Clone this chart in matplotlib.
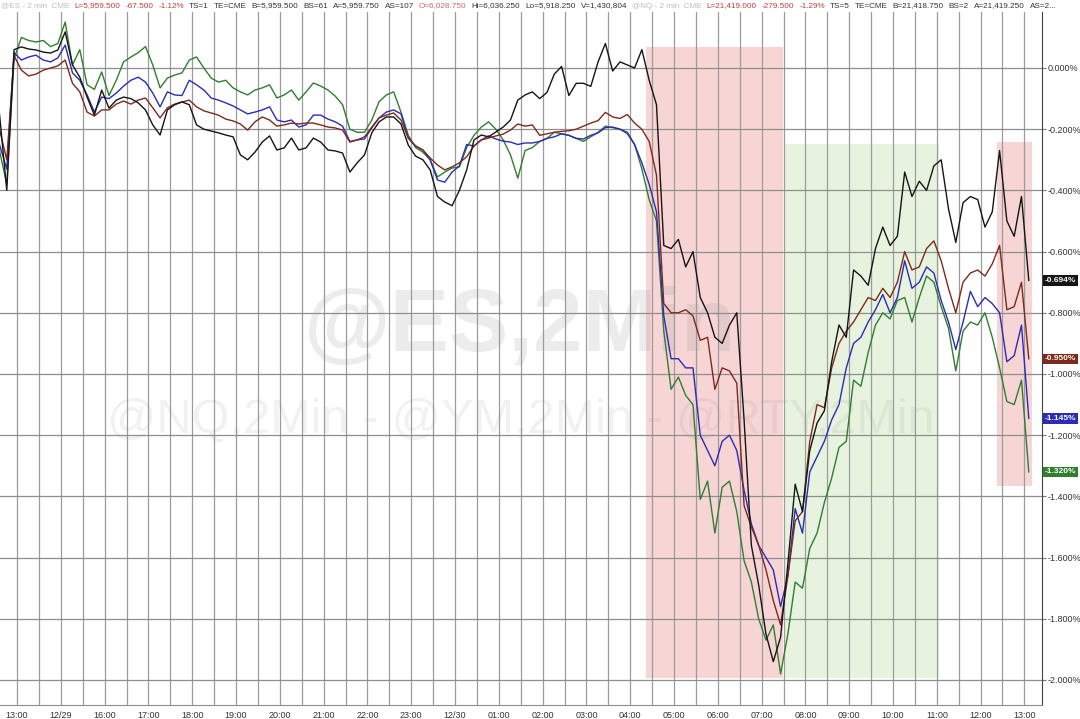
import numpy as np
import matplotlib
matplotlib.use("Agg")
import matplotlib.pyplot as plt
from matplotlib.patches import Rectangle

plt.rcParams['font.family'] = ['Liberation Sans', 'DejaVu Sans']

W, H = 1080, 719

# 10-minute samples, time in hours counted from the first 13:00 tick
t = -0.4 + np.arange(142) / 6.0

pct_black = [
    -0.15, -0.40, 0.06, 0.069, 0.062, 0.059, 0.052, 0.049, 0.059, 0.118,
    0.01, -0.03, -0.095, -0.154, -0.072, -0.131, -0.105, -0.095, -0.10, -0.114,
    -0.137, -0.186, -0.219, -0.137, -0.12, -0.111, -0.12, -0.186, -0.20, -0.206,
    -0.212, -0.219, -0.225, -0.284, -0.30, -0.275, -0.242, -0.222, -0.268, -0.261,
    -0.229, -0.268, -0.261, -0.229, -0.242, -0.268, -0.271, -0.278, -0.34, -0.31,
    -0.284, -0.212, -0.176, -0.16, -0.16, -0.183, -0.252, -0.288, -0.30, -0.333,
    -0.42, -0.438, -0.45, -0.40, -0.333, -0.235, -0.219, -0.225, -0.209, -0.193,
    -0.17, -0.105, -0.088, -0.078, -0.10, -0.08, -0.02, 0.005, -0.09, -0.05,
    -0.05, -0.06, 0.02, 0.08, -0.01, 0.02, 0.01, 0.0, 0.06, -0.04,
    -0.12, -0.58, -0.59, -0.56, -0.65, -0.60, -0.75, -0.80, -0.88, -0.90,
    -0.84, -0.80, -1.15, -1.56, -1.69, -1.85, -1.94, -1.86, -1.62, -1.36,
    -1.45, -1.25, -1.16, -1.12, -0.96, -0.84, -0.88, -0.66, -0.68, -0.71,
    -0.59, -0.52, -0.58, -0.55, -0.34, -0.42, -0.37, -0.40, -0.32, -0.30,
    -0.46, -0.57, -0.44, -0.42, -0.43, -0.52, -0.47, -0.27, -0.50, -0.55,
    -0.42, -0.694,
]

pct_brown = [
    -0.20, -0.30, 0.04, -0.007, -0.026, -0.02, -0.007, 0.0, 0.007, 0.026,
    -0.05, -0.078, -0.144, -0.157, -0.137, -0.137, -0.118, -0.108, -0.118, -0.105,
    -0.098, -0.13, -0.163, -0.13, -0.118, -0.111, -0.105, -0.127, -0.14, -0.147,
    -0.154, -0.167, -0.173, -0.183, -0.203, -0.176, -0.16, -0.17, -0.19, -0.186,
    -0.18, -0.183, -0.18, -0.18, -0.186, -0.193, -0.196, -0.203, -0.242, -0.235,
    -0.225, -0.193, -0.163, -0.154, -0.147, -0.17, -0.229, -0.255, -0.268, -0.294,
    -0.317, -0.333, -0.323, -0.31, -0.29, -0.255, -0.235, -0.229, -0.222, -0.216,
    -0.203, -0.183, -0.19, -0.186, -0.22, -0.215, -0.21, -0.207, -0.205, -0.20,
    -0.19, -0.18, -0.172, -0.145, -0.16, -0.165, -0.152, -0.18, -0.20, -0.24,
    -0.35, -0.77, -0.80, -0.80, -0.79, -0.81, -0.89, -0.88, -1.05, -0.98,
    -0.99, -1.03, -1.43, -1.50, -1.56, -1.64, -1.74, -1.82, -1.66, -1.48,
    -1.45, -1.22, -1.10, -1.11, -0.98, -0.90, -0.86, -0.83, -0.79, -0.75,
    -0.76, -0.72, -0.75, -0.70, -0.60, -0.66, -0.65, -0.59, -0.565, -0.63,
    -0.72, -0.80, -0.70, -0.67, -0.66, -0.68, -0.64, -0.58, -0.79, -0.78,
    -0.70, -0.95,
]

pct_blue = [
    -0.25, -0.33, 0.05, 0.026, 0.036, 0.042, 0.026, 0.02, 0.033, 0.075,
    -0.016, -0.04, -0.088, -0.144, -0.095, -0.10, -0.082, -0.059, -0.04, -0.03,
    -0.046, -0.082, -0.127, -0.078, -0.088, -0.09, -0.04, -0.055, -0.072, -0.098,
    -0.105, -0.114, -0.124, -0.137, -0.15, -0.144, -0.137, -0.127, -0.17, -0.176,
    -0.17, -0.193, -0.186, -0.154, -0.154, -0.167, -0.176, -0.19, -0.24, -0.235,
    -0.232, -0.196, -0.163, -0.144, -0.137, -0.15, -0.229, -0.255, -0.268, -0.30,
    -0.366, -0.373, -0.34, -0.32, -0.25, -0.255, -0.235, -0.222, -0.232, -0.239,
    -0.242, -0.25, -0.245, -0.245, -0.24, -0.23, -0.225, -0.215, -0.22, -0.23,
    -0.232, -0.22, -0.212, -0.195, -0.193, -0.20, -0.21, -0.25, -0.31, -0.38,
    -0.47, -0.81, -0.95, -0.95, -0.98, -0.98, -1.20, -1.25, -1.30, -1.22,
    -1.20, -1.25, -1.38, -1.49, -1.56, -1.60, -1.64, -1.76, -1.66, -1.44,
    -1.52, -1.32, -1.27, -1.22, -1.15, -1.10, -0.98, -0.90, -0.88, -0.83,
    -0.79, -0.74, -0.80, -0.75, -0.63, -0.72, -0.70, -0.65, -0.67, -0.76,
    -0.83, -0.92, -0.83, -0.73, -0.78, -0.75, -0.77, -0.80, -0.96, -0.94,
    -0.84, -1.145,
]

pct_green = [
    -0.27, -0.38, 0.03, 0.10, 0.09, 0.085, 0.09, 0.07, 0.08, 0.15,
    0.01, 0.06, -0.055, -0.07, -0.013, -0.09, -0.04, 0.02, 0.036, 0.05,
    0.07, 0.01, -0.065, -0.033, -0.023, -0.016, 0.026, 0.036, 0.0, -0.033,
    -0.046, -0.04, -0.065, -0.078, -0.088, -0.072, -0.065, -0.055, -0.098, -0.088,
    -0.072, -0.105, -0.078, -0.049, -0.059, -0.072, -0.092, -0.12, -0.20, -0.21,
    -0.21, -0.17, -0.11, -0.088, -0.078, -0.144, -0.22, -0.26, -0.275, -0.30,
    -0.356, -0.34, -0.327, -0.323, -0.26, -0.22, -0.193, -0.176, -0.20, -0.235,
    -0.284, -0.36, -0.27, -0.26, -0.24, -0.23, -0.21, -0.215, -0.22, -0.23,
    -0.24, -0.225, -0.21, -0.19, -0.195, -0.20, -0.215, -0.25, -0.33, -0.43,
    -0.50, -0.86, -1.05, -1.01, -1.07, -1.10, -1.41, -1.35, -1.52, -1.37,
    -1.35, -1.45, -1.61, -1.68, -1.80, -1.87, -1.82, -1.98, -1.85, -1.68,
    -1.70, -1.57, -1.52, -1.42, -1.34, -1.24, -1.22, -1.02, -1.04, -0.93,
    -0.84, -0.80, -0.82, -0.76, -0.75, -0.83, -0.75, -0.68, -0.70, -0.78,
    -0.85, -0.99, -0.86, -0.83, -0.84, -0.80, -0.88, -0.98, -1.09, -1.10,
    -1.02, -1.32,
]

last_values = [-0.694, -0.950, -1.145, -1.320]
line_colors = ['#151515', '#7d2a1c', '#2c2cb4', '#2f7f2f']

x_labels = ['13:00', '12/29', '16:00', '17:00', '18:00', '19:00', '20:00', '21:00',
            '22:00', '23:00', '12/30', '01:00', '02:00', '03:00', '04:00', '05:00',
            '06:00', '07:00', '08:00', '09:00', '10:00', '11:00', '12:00', '13:00']
y_ticks = [0.0, -0.2, -0.4, -0.6, -0.8, -1.0, -1.2, -1.4, -1.6, -1.8, -2.0]

# shaded zones: (start h, end h, top %, bottom %, colour)
zones = [
    (14.35, 17.48, 0.069, -1.995, '#f7d5d5'),
    (17.50, 21.05, -0.250, -1.995, '#e7f3de'),
    (22.37, 23.17, -0.242, -1.365, '#f7d5d5'),
]

header = [
    ('@ES - 2 min  CME', '#bdbdbd'), ('L=5,959.500', '#c43c3c'), ('-67.500', '#c43c3c'),
    ('-1.12%', '#c43c3c'), ('TS=1', '#333333'), ('TE=CME', '#333333'),
    ('B=5,959.500', '#333333'), ('BS=61', '#333333'), ('A=5,959.750', '#333333'),
    ('AS=107', '#333333'), ('O=6,028.750', '#d06a6a'), ('Hi=6,036.250', '#333333'),
    ('Lo=5,918.250', '#333333'), ('V=1,430,804', '#333333'), ('@NQ - 2 min  CME', '#bdbdbd'),
    ('L=21,419.000', '#c43c3c'), ('-279.500', '#c43c3c'), ('-1.29%', '#c43c3c'),
    ('TS=5', '#333333'), ('TE=CME', '#333333'), ('B=21,418.750', '#333333'),
    ('BS=2', '#333333'), ('A=21,419.250', '#333333'), ('AS=2...', '#333333'),
]

fig = plt.figure(figsize=(W / 100, H / 100), dpi=100)
ax = fig.add_axes([0, 14 / H, 1042 / W, (H - 12 - 14) / H])
ax.set_xlim(-17 / 43.8, (1042 - 17) / 43.8)
ax.set_ylim(-(705 - 68) / 306, (68 - 12) / 306)

for x0, x1, top, bot, col in zones:
    ax.add_patch(Rectangle((x0, bot), x1 - x0, top - bot, fc=col, ec='none', zorder=1))

# grid: every half hour, every 0.2 %
for gx in np.arange(0, 23.5, 0.5):
    ax.axvline(gx, color='#9c9c9c', lw=0.9, zorder=1.5)
for gy in y_ticks:
    ax.axhline(gy, color='#8e8e8e', lw=0.9, zorder=1.5)

ax.text(520 / W, 1 - 328 / H, '@ES,2Min', transform=fig.transFigure, ha='center', va='center',
        fontsize=64, fontweight='bold', color='#808080', alpha=0.15, zorder=1.2)
ax.text(521 / W, 1 - 420 / H, '@NQ,2Min - @YM,2Min - @RTY,2Min', transform=fig.transFigure,
        ha='center', va='center', fontsize=35, color='#808080', alpha=0.11, zorder=1.2)

for vals, col in zip([pct_green, pct_blue, pct_brown, pct_black], line_colors[::-1]):
    ax.plot(t, vals, color=col, lw=1.0, zorder=3)

ax.set_xticks(range(len(x_labels)))
ax.set_xticklabels(x_labels)
ax.tick_params(axis='x', length=0, labelsize=6.5, pad=4, colors='#333333')

ax.yaxis.tick_right()
ax.set_yticks(y_ticks)
ax.set_yticklabels(['0.000%' if v == 0 else f'{v:.3f}%' for v in y_ticks])
ax.tick_params(axis='y', length=3, width=0.8, color='#777777', labelsize=6.5, pad=1,
               labelcolor='#333333')

for side in ['top', 'left']:
    ax.spines[side].set_visible(False)
ax.spines['bottom'].set_color('#8e8e8e')
ax.spines['right'].set_color('#444444')

for v, col in zip(last_values, line_colors):
    ax.text(1.003, v, f'{v:.3f}%', transform=ax.get_yaxis_transform(), ha='left', va='center',
            fontsize=6, color='white', fontweight='bold',
            bbox=dict(boxstyle='square,pad=0.2', fc=col, ec='none'), zorder=5)

# header strip, laid out piece by piece
fig.canvas.draw()
rend = fig.canvas.get_renderer()
xp = 1
for s, col in header:
    tx = fig.text(xp / W, 1 - 6 / H, s, color=col, fontsize=5.9, ha='left', va='center')
    xp += tx.get_window_extent(renderer=rend).width + 5

fig.savefig('out.png', dpi=100)
